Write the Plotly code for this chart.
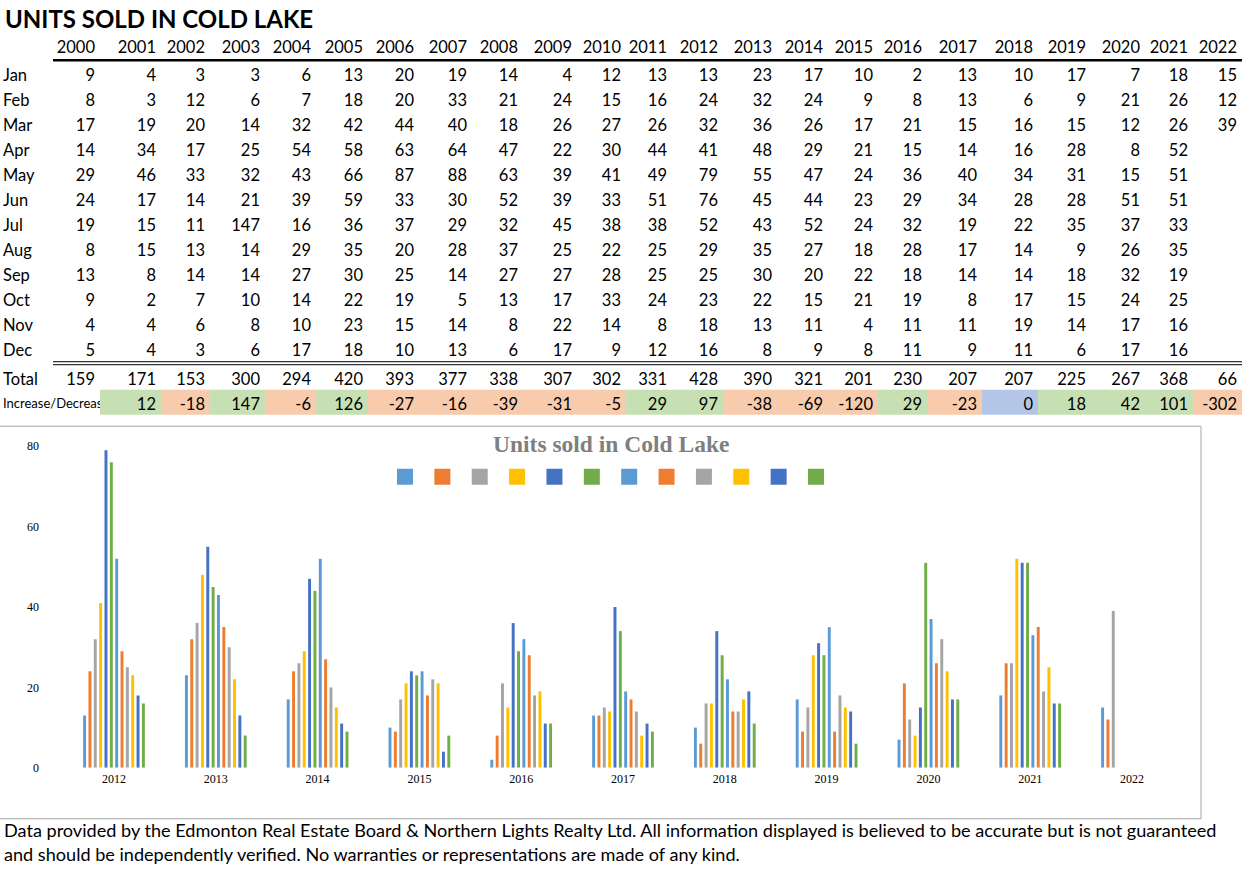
import plotly.graph_objects as go

W, H = 1254, 880

years = [str(y) for y in range(2000, 2023)]
months = ["Jan", "Feb", "Mar", "Apr", "May", "Jun", "Jul", "Aug", "Sep", "Oct", "Nov", "Dec"]

jan = [9, 4, 3, 3, 6, 13, 20, 19, 14, 4, 12, 13, 13, 23, 17, 10, 2, 13, 10, 17, 7, 18, 15]
feb = [8, 3, 12, 6, 7, 18, 20, 33, 21, 24, 15, 16, 24, 32, 24, 9, 8, 13, 6, 9, 21, 26, 12]
mar = [17, 19, 20, 14, 32, 42, 44, 40, 18, 26, 27, 26, 32, 36, 26, 17, 21, 15, 16, 15, 12, 26, 39]
apr = [14, 34, 17, 25, 54, 58, 63, 64, 47, 22, 30, 44, 41, 48, 29, 21, 15, 14, 16, 28, 8, 52, None]
may = [29, 46, 33, 32, 43, 66, 87, 88, 63, 39, 41, 49, 79, 55, 47, 24, 36, 40, 34, 31, 15, 51, None]
jun = [24, 17, 14, 21, 39, 59, 33, 30, 52, 39, 33, 51, 76, 45, 44, 23, 29, 34, 28, 28, 51, 51, None]
jul = [19, 15, 11, 147, 16, 36, 37, 29, 32, 45, 38, 38, 52, 43, 52, 24, 32, 19, 22, 35, 37, 33, None]
aug = [8, 15, 13, 14, 29, 35, 20, 28, 37, 25, 22, 25, 29, 35, 27, 18, 28, 17, 14, 9, 26, 35, None]
sep = [13, 8, 14, 14, 27, 30, 25, 14, 27, 27, 28, 25, 25, 30, 20, 22, 18, 14, 14, 18, 32, 19, None]
oct = [9, 2, 7, 10, 14, 22, 19, 5, 13, 17, 33, 24, 23, 22, 15, 21, 19, 8, 17, 15, 24, 25, None]
nov = [4, 4, 6, 8, 10, 23, 15, 14, 8, 22, 14, 8, 18, 13, 11, 4, 11, 11, 19, 14, 17, 16, None]
dec = [5, 4, 3, 6, 17, 18, 10, 13, 6, 17, 9, 12, 16, 8, 9, 8, 11, 9, 11, 6, 17, 16, None]
month_rows = [jan, feb, mar, apr, may, jun, jul, aug, sep, oct, nov, dec]

totals = [159, 171, 153, 300, 294, 420, 393, 377, 338, 307, 302, 331, 428, 390, 321, 201,
          230, 207, 207, 225, 267, 368, 66]
change = [None, 12, -18, 147, -6, 126, -27, -16, -39, -31, -5, 29, 97, -38, -69, -120,
          29, -23, 0, 18, 42, 101, -302]

first_chart_year = 12  # chart shows 2012 onwards
chart_years = years[first_chart_year:]

footer = ["Data provided by the Edmonton Real Estate Board & Northern Lights Realty Ltd. "
          "All information displayed is believed to be accurate but is not guaranteed",
          "and should be independently verified. No warranties or representations are made of any kind."]

# ---------------- Styles / layout constants ----------------
bar_colors = ["#5B9BD5", "#ED7D31", "#A5A5A5", "#FFC000", "#4472C4", "#70AD47"] * 2
col_widths = [53, 47, 61, 49, 55, 51, 52, 51, 53, 51, 54, 49, 46, 51, 54, 51, 50, 49, 55, 56, 53, 54, 48, 49]
col_edges = [0]
for w in col_widths:
    col_edges.append(col_edges[-1] + w)
num_right = [e - 5 for e in col_edges[2:]]  # numbers are right aligned in each column

# page y positions are given as measured on the target picture; the capture
# squeezes the page a little vertically, so the pixel axes are stretched to match
Y0, K = 6.3, 0.984
def dom(y):
    return 1 - (y - Y0) / K / H

FS = 16.5
TEXT_DY = 0.11 * FS  # scatter text sits a little high, push it down
header_y = 46.7
row_y = [74 + 25 * i for i in range(12)]
total_y, change_y = 378, 403
TABLE_FONT = "Lato"
SERIF = "Liberation Serif"

fig = go.Figure()

# ---------------- Table: coloured increase/decrease cells ----------------
signs = [None if c is None else (1 if c > 0 else (-1 if c < 0 else 0)) for c in change]
fig.add_trace(go.Heatmap(
    z=[signs], x=col_edges[1:], y=[change_y - 14, change_y + 11],
    zmin=-1, zmax=1, showscale=False, hoverinfo="skip",
    colorscale=[[0, "#F8CBAD"], [0.3333, "#F8CBAD"], [0.3333, "#B4C6E7"],
                [0.6667, "#B4C6E7"], [0.6667, "#C6E0B4"], [1, "#C6E0B4"]],
    xaxis="x2", yaxis="y2",
))

# ---------------- Table: numbers ----------------
tx, ty, tt = [], [], []
for i, yr in enumerate(years):
    tx.append(num_right[i]); ty.append(header_y + TEXT_DY); tt.append(yr)
for r, vals in enumerate(month_rows):
    for i, v in enumerate(vals):
        if v is not None:
            tx.append(num_right[i]); ty.append(row_y[r] + TEXT_DY); tt.append(str(v))
for i, v in enumerate(totals):
    tx.append(num_right[i]); ty.append(total_y + TEXT_DY); tt.append(str(v))
for i, v in enumerate(change):
    if v is not None:
        tx.append(num_right[i]); ty.append(change_y + TEXT_DY); tt.append(str(v))

fig.add_trace(go.Scatter(
    x=tx, y=ty, text=tt, mode="text", textposition="middle left",
    textfont=dict(family=TABLE_FONT, size=FS, color="black"),
    hoverinfo="skip", xaxis="x2", yaxis="y2",
))

# row labels
fig.add_trace(go.Scatter(
    x=[3] * 13, y=[y + TEXT_DY for y in row_y + [total_y]], text=months + ["Total"],
    mode="text", textposition="middle right",
    textfont=dict(family=TABLE_FONT, size=FS, color="black"),
    hoverinfo="skip", xaxis="x2", yaxis="y2",
))

# the long label is cut off where the first coloured cell starts
fig.add_trace(go.Scatter(
    x=[3], y=[change_y + 0.11 * 13], text=["Increase/Decrease"],
    mode="text", textposition="middle right", cliponaxis=True,
    textfont=dict(family=TABLE_FONT, size=13, color="black"),
    hoverinfo="skip", xaxis="x4", yaxis="y4",
))

# ---------------- Bar chart ----------------
for m, vals, color in zip(months, month_rows, bar_colors):
    fig.add_trace(go.Bar(
        x=chart_years, y=vals[first_chart_year:], name=m,
        marker=dict(color=color, line=dict(width=0)),
        xaxis="x", yaxis="y",
    ))

# legend swatches (entries have no text in the original)
fig.add_trace(go.Scatter(
    x=months, y=[0] * 12, mode="markers",
    marker=dict(symbol="square", size=16, color=bar_colors),
    hovertext=months, hoverinfo="text", xaxis="x3", yaxis="y3",
))

# ---------------- Text ----------------
annotations = [
    dict(text="<b>UNITS SOLD IN COLD LAKE</b>", x=3, y=18, xref="x2", yref="y2",
         xanchor="left", yanchor="middle", showarrow=False,
         font=dict(family=TABLE_FONT, size=24, color="black")),
    dict(text="<b>Units sold in Cold Lake</b>", x=611, y=443, xref="x2", yref="y2",
         xanchor="center", yanchor="middle", showarrow=False,
         font=dict(family=SERIF, size=23.5, color="#7F7F7F")),
]
for line, yy in zip(footer, [829, 853]):
    annotations.append(dict(text=line, x=2, y=yy, xref="x2", yref="y2",
                            xanchor="left", yanchor="middle", showarrow=False,
                            font=dict(family=TABLE_FONT, size=18.1, color="black")))

shapes = [
    dict(type="line", x0=col_edges[1], x1=col_edges[-1], y0=59.5, y1=59.5,
         xref="x2", yref="y2", line=dict(color="black", width=2.5)),
    dict(type="line", x0=col_edges[1], x1=col_edges[-1], y0=361, y1=361,
         xref="x2", yref="y2", line=dict(color="black", width=1)),
    dict(type="line", x0=col_edges[1], x1=col_edges[-1], y0=364, y1=364,
         xref="x2", yref="y2", line=dict(color="black", width=1)),
    dict(type="rect", x0=-3, x1=1201, y0=425.5, y1=818, xref="x2", yref="y2",
         line=dict(color="#A6A6A6", width=1)),
]

tick_font = dict(family=SERIF, size=12, color="black")
hidden = dict(visible=False, showgrid=False, zeroline=False, fixedrange=True)
page_y_range = [Y0 + K * H, Y0]

fig.update_layout(
    width=W, height=H,
    margin=dict(l=0, r=0, t=0, b=0),
    paper_bgcolor="white", plot_bgcolor="rgba(0,0,0,0)",
    showlegend=False,
    barmode="group", bargap=0.37, bargroupgap=0.45,
    xaxis=dict(domain=[63.1 / W, 1182.9 / W], type="category", anchor="y",
               showgrid=False, zeroline=False, showline=False, ticks="",
               tickfont=tick_font, ticklabelstandoff=2),
    yaxis=dict(domain=[dom(767), dom(445.5)], range=[0, 80], anchor="x",
               tickvals=[0, 20, 40, 60, 80], showgrid=False, zeroline=False,
               showline=False, ticks="", tickfont=tick_font, ticklabelstandoff=23),
    xaxis2=dict(domain=[0, 1], range=[0, W], anchor="y2", **hidden),
    yaxis2=dict(domain=[0, 1], range=page_y_range, anchor="x2", **hidden),
    xaxis3=dict(domain=[386.3 / W, 834.7 / W], range=[-0.5, 11.5], type="category",
                anchor="y3", **hidden),
    yaxis3=dict(domain=[dom(486), dom(466)], range=[-1, 1], anchor="x3", **hidden),
    xaxis4=dict(domain=[0, col_edges[2] / W], range=[0, col_edges[2]], anchor="y4", **hidden),
    yaxis4=dict(domain=[0, 1], range=page_y_range, anchor="x4", **hidden),
    annotations=annotations,
    shapes=shapes,
)

fig.write_html(
    "out.html",
    config={"displayModeBar": False},
    post_script="document.documentElement.style.margin='0';"
                "document.body.style.margin='0';document.body.style.overflow='hidden';",
)
